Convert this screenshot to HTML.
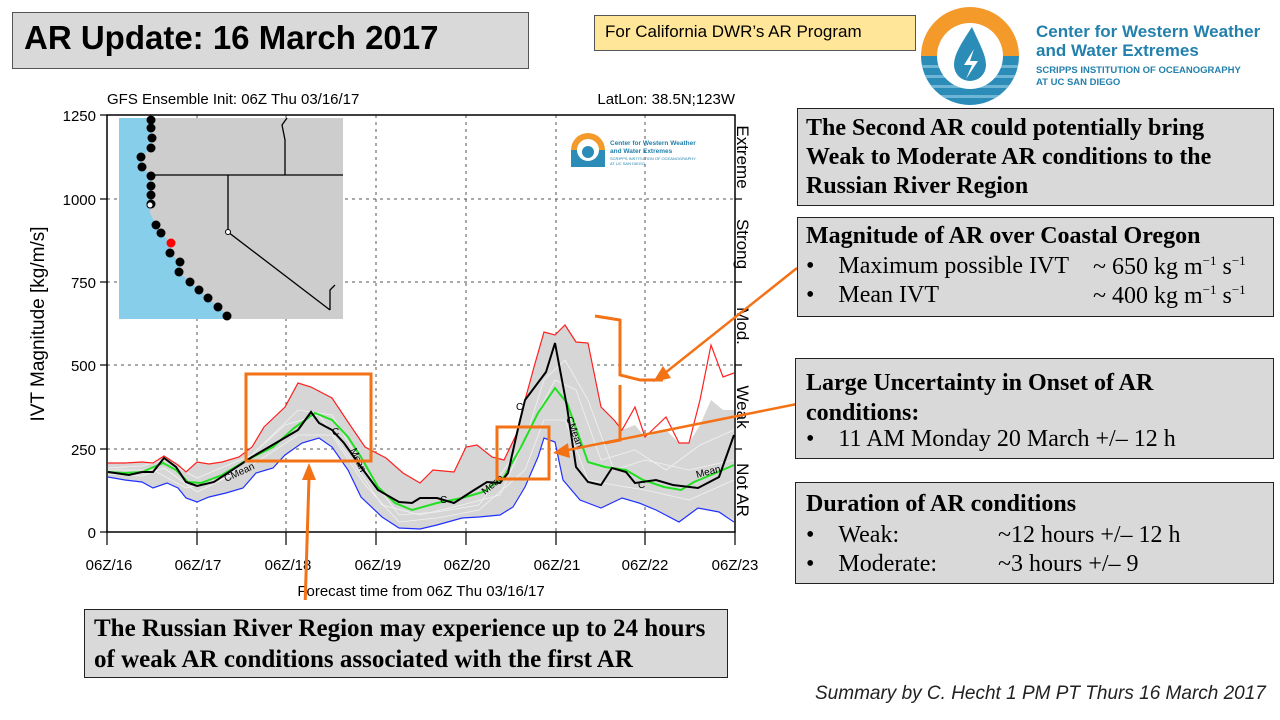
<!DOCTYPE html>
<html><head><meta charset="utf-8"><style>
body{margin:0;width:1280px;height:720px;background:#fff;position:relative;overflow:hidden;font-family:"Liberation Sans",sans-serif}
.a{position:absolute;white-space:nowrap}
.box{position:absolute;background:#d9d9d9;border:1.5px solid #222;box-sizing:border-box}
.s{font-family:"Liberation Serif",serif;font-size:24px;color:#000}
.b{font-weight:bold}
sup{font-size:13px}
</style></head><body>
<div class="box" style="left:12px;top:12px;width:517px;height:57px;border-color:#555"></div>
<div class="a" style="left:24px;top:19px;font-size:33px;font-weight:bold;color:#000">AR Update: 16 March 2017</div>
<div class="box" style="left:594px;top:15px;width:322px;height:36px;background:#ffe699;border-color:#555"></div>
<div class="a" style="left:605px;top:22px;font-size:17px">For California DWR’s AR Program</div>

<svg class="a" style="left:920px;top:5px" width="100" height="102" viewBox="0 0 100 102">
<defs><clipPath id="c"><circle cx="50" cy="51" r="49"/></clipPath></defs>
<g clip-path="url(#c)"><rect x="0" y="0" width="100" height="51" fill="#f39a2a"/><rect x="0" y="51" width="100" height="51" fill="#2b8cb8"/>
<rect x="0" y="60" width="100" height="3" fill="#6fb6d6"/><rect x="0" y="70" width="100" height="3" fill="#6fb6d6"/><rect x="0" y="80" width="100" height="3" fill="#6fb6d6"/><rect x="0" y="90" width="100" height="3" fill="#6fb6d6"/></g>
<circle cx="50" cy="51" r="33" fill="#fff"/>
<path d="M52 22 C40 40 34 50 34 60 A16 16 0 0 0 66 60 C66 50 60 40 52 22Z" fill="#2b8cb8"/>
<path d="M54 44 L44 60 L52 60 L46 74 L58 56 L50 56Z" fill="#fff"/>
</svg>
<div class="a" style="left:1036px;top:22px;font-size:17px;color:#2380ad;font-weight:bold;line-height:19px">Center for Western Weather<br>and Water Extremes</div>
<div class="a" style="left:1036px;top:65px;font-size:9.5px;color:#2380ad;font-weight:bold;line-height:12px">SCRIPPS INSTITUTION OF OCEANOGRAPHY<br>AT UC SAN DIEGO</div>

<svg class="a" style="left:0;top:0" width="790" height="600">
<text x="107" y="104" font-size="15" font-family="Liberation Sans">GFS Ensemble Init: 06Z Thu 03/16/17</text>
<text x="735" y="104" font-size="15" text-anchor="end" font-family="Liberation Sans">LatLon: 38.5N;123W</text>
<g stroke="#555" stroke-dasharray="3,4" stroke-width="1">
<line x1="197" y1="115" x2="197" y2="532"/><line x1="286" y1="115" x2="286" y2="532"/><line x1="376" y1="115" x2="376" y2="532"/><line x1="466" y1="115" x2="466" y2="532"/><line x1="556" y1="115" x2="556" y2="532"/><line x1="645" y1="115" x2="645" y2="532"/>
<line x1="107" y1="199" x2="735" y2="199"/><line x1="107" y1="282" x2="735" y2="282"/><line x1="107" y1="365" x2="735" y2="365"/><line x1="107" y1="449" x2="735" y2="449"/>
</g>
<polygon fill="#d6d6d6" points="108,463 125,463 142,462 153,463 164,456 178,465 186,472 197,462 209,464 222,462 239,457 252,447 264,427 285,407 298,383 311,387 332,398 348,422 365,447 386,458 403,473 420,483 433,470 454,472 466,447 477,445 492,457 504,460 517,433 525,400 534,367 544,332 555,335 565,325 576,342 588,343 601,407 614,420 622,430 635,425 645,437 666,430 679,443 689,443 700,425 711,400 723,410 734,410 734,520 719,512 698,508 679,522 656,510 639,503 622,498 601,508 580,500 563,480 555,442 544,438 538,457 525,487 513,507 500,515 479,517 462,518 437,525 420,529 399,528 382,517 361,497 348,470 332,447 319,438 302,443 285,455 273,468 256,473 243,488 226,493 209,497 197,502 186,498 178,488 167,483 153,488 142,482 125,480 108,477"/>
<g fill="none" stroke="#f2f2f2" stroke-width="0.8">
<polyline points="108,468 142,466 164,460 197,478 252,455 298,410 332,415 365,470 399,515 437,512 479,505 525,440 544,380 565,360 588,400 614,470 645,460 689,470 734,460"/>
<polyline points="108,474 142,476 164,468 197,492 252,465 298,435 332,435 365,485 399,522 437,518 479,510 525,470 544,420 565,420 588,480 614,485 645,490 689,500 734,480"/>
<polyline points="108,470 153,470 186,488 226,478 285,425 319,415 348,455 382,505 420,515 462,505 500,495 534,420 555,380 576,390 601,460 635,450 666,470 700,445 734,430"/>
</g>
<polyline fill="none" stroke="#ff2020" stroke-width="1.2" points="108,463 125,463 142,462 153,463 164,456 178,465 186,472 197,462 209,464 222,462 239,457 252,447 264,427 285,407 298,383 311,387 332,398 348,422 365,447 386,458 403,473 420,483 433,470 454,472 466,447 477,445 492,457 504,460 517,433 525,400 534,367 544,332 555,335 565,325 576,342 588,343 601,407 614,420 622,430 635,407 645,437 666,417 679,443 689,443 700,400 711,345 723,377 734,373"/>
<polyline fill="none" stroke="#2030ff" stroke-width="1.2" points="108,477 125,480 142,482 153,488 167,483 178,488 186,498 197,502 209,497 226,493 243,488 256,473 273,468 285,455 302,443 319,438 332,447 348,470 361,497 382,517 399,528 420,529 437,525 462,518 479,517 500,515 513,507 525,487 538,457 544,438 555,442 563,480 580,500 601,508 622,498 639,503 656,510 679,522 698,508 719,512 734,522"/>
<polyline fill="none" stroke="#20e020" stroke-width="2" points="108,472 125,473 142,472 163,463 176,470 188,482 201,483 222,475 247,460 273,447 294,428 315,413 332,420 348,437 361,457 378,487 395,503 412,510 437,503 462,498 483,492 504,477 521,447 538,413 555,388 567,403 588,462 605,467 626,470 643,480 664,487 681,490 694,482 711,475 734,465"/>
<polyline fill="none" stroke="#000" stroke-width="2" points="108,472 129,475 142,472 153,472 164,458 176,467 186,482 197,486 214,482 252,457 298,430 311,412 319,423 332,430 344,443 361,467 378,490 399,502 412,503 420,498 437,498 454,503 471,492 487,482 500,483 508,473 517,433 525,400 546,372 555,343 567,407 576,467 588,482 601,485 612,468 626,472 635,483 656,480 673,485 698,488 719,477 734,435"/>
<g font-size="10" font-family="Liberation Sans"><text x="226" y="482" transform="rotate(-25 226 482)">CMean</text><text x="332" y="435">C</text><text x="350" y="450" transform="rotate(65 350 450)">Mean</text><text x="440" y="503">C</text><text x="485" y="495" transform="rotate(-40 485 495)">Mean</text><text x="516" y="410">C</text><text x="566" y="418" transform="rotate(70 566 418)">CMean</text><text x="638" y="488">C</text><text x="697" y="478" transform="rotate(-15 697 478)">Mean</text></g>
<rect x="107" y="115" width="628" height="417" fill="none" stroke="#000" stroke-width="1.5"/>
<g stroke="#000" stroke-width="1.2">
<line x1="107" y1="532" x2="107" y2="545"/><line x1="197" y1="532" x2="197" y2="545"/><line x1="286" y1="532" x2="286" y2="545"/><line x1="376" y1="532" x2="376" y2="545"/><line x1="466" y1="532" x2="466" y2="545"/><line x1="556" y1="532" x2="556" y2="545"/><line x1="645" y1="532" x2="645" y2="545"/><line x1="735" y1="532" x2="735" y2="545"/>
<line x1="100" y1="115" x2="107" y2="115"/><line x1="100" y1="199" x2="107" y2="199"/><line x1="100" y1="282" x2="107" y2="282"/><line x1="100" y1="365" x2="107" y2="365"/><line x1="100" y1="449" x2="107" y2="449"/><line x1="100" y1="532" x2="107" y2="532"/>
<line x1="735" y1="199" x2="742" y2="199"/><line x1="735" y1="282" x2="742" y2="282"/><line x1="735" y1="365" x2="742" y2="365"/><line x1="735" y1="449" x2="742" y2="449"/>
</g>
<g font-size="15" font-family="Liberation Sans" text-anchor="end"><text x="96" y="121">1250</text><text x="96" y="205">1000</text><text x="96" y="288">750</text><text x="96" y="371">500</text><text x="96" y="455">250</text><text x="96" y="538">0</text></g>
<text transform="translate(44 324) rotate(-90)" font-size="19" text-anchor="middle" font-family="Liberation Sans">IVT Magnitude [kg/m/s]</text>
<g font-size="15" font-family="Liberation Sans" text-anchor="middle"><text x="109" y="570">06Z/16</text><text x="198" y="570">06Z/17</text><text x="288" y="570">06Z/18</text><text x="378" y="570">06Z/19</text><text x="467" y="570">06Z/20</text><text x="557" y="570">06Z/21</text><text x="645" y="570">06Z/22</text><text x="735" y="570">06Z/23</text></g>
<text x="421" y="596" font-size="15" text-anchor="middle" font-family="Liberation Sans">Forecast time from 06Z Thu 03/16/17</text>
<g font-size="17" font-family="Liberation Sans" text-anchor="middle">
<text transform="translate(737 157) rotate(90)">Extreme</text><text transform="translate(737 244) rotate(90)">Strong</text><text transform="translate(737 326) rotate(90)">Mod.</text><text transform="translate(737 407) rotate(90)">Weak</text><text transform="translate(737 490) rotate(90)">Not AR</text></g>
<rect x="119" y="118" width="224" height="201" fill="#cdcdcd"/>
<polygon fill="#87ceeb" points="119,118 151,118 151,148 141,157 142,167 151,176 150,213 156,225 161,233 171,243 170,253 180,262 179,272 190,282 199,290 208,298 218,307 227,315 230,319 119,319"/>
<g stroke="#000" stroke-width="1.3" fill="none"><polyline points="152,175 343,175"/><polyline points="228,175 228,232 330,310"/><polyline points="285,175 285,140 282,125 287,118"/><polyline points="330,310 330,290 335,285"/></g>
<circle cx="228" cy="232" r="2.5" fill="#fff" stroke="#000"/>
<g fill="#000"><circle cx="151" cy="120" r="4.5"/><circle cx="151" cy="128" r="4.5"/><circle cx="152" cy="138" r="4.5"/><circle cx="151" cy="148" r="4.5"/><circle cx="141" cy="157" r="4.5"/><circle cx="142" cy="167" r="4.5"/><circle cx="151" cy="176" r="4.5"/><circle cx="151" cy="186" r="4.5"/><circle cx="151" cy="195" r="4.5"/><circle cx="151" cy="204" r="4.5"/><circle cx="156" cy="225" r="4.5"/><circle cx="161" cy="233" r="4.5"/><circle cx="170" cy="253" r="4.5"/><circle cx="180" cy="262" r="4.5"/><circle cx="179" cy="272" r="4.5"/><circle cx="190" cy="282" r="4.5"/><circle cx="199" cy="290" r="4.5"/><circle cx="208" cy="298" r="4.5"/><circle cx="218" cy="307" r="4.5"/><circle cx="227" cy="316" r="4.5"/></g>
<circle cx="150" cy="205" r="3" fill="#fff" stroke="#000"/>
<circle cx="171" cy="243" r="4.5" fill="#f00"/>
<circle cx="588" cy="150" r="17" fill="#f39a2a"/><rect x="571" y="150" width="34" height="17" fill="#2b8cb8"/><circle cx="588" cy="150" r="11" fill="#fff"/><circle cx="588" cy="152" r="6" fill="#2b8cb8"/>
<text x="610" y="145" font-size="6.5" fill="#2380ad" font-weight="bold">Center for Western Weather</text><text x="610" y="153" font-size="6.5" fill="#2380ad" font-weight="bold">and Water Extremes</text><text x="610" y="160" font-size="4" fill="#2380ad">SCRIPPS INSTITUTION OF OCEANOGRAPHY</text><text x="610" y="165" font-size="4" fill="#2380ad">AT UC SAN DIEGO</text>
<g stroke="#f47216" stroke-width="3" fill="none">
<rect x="246" y="374" width="125" height="87"/><rect x="497" y="427" width="52" height="52"/>
<polyline points="595,316 620,320 620,375 640,380 663,380"/><polyline points="620,385 620,440 605,443"/>
<line x1="305" y1="608" x2="309" y2="478"/>
</g>
<polygon points="309,463 302,480 316,480" fill="#f47216"/>
</svg>
<svg class="a" style="left:0;top:0" width="1280" height="720">
<g stroke="#f47216" stroke-width="2.5"><line x1="797" y1="268" x2="665" y2="373"/><line x1="797" y1="404" x2="568" y2="450"/></g>
<polygon points="653,382 663,366 671,378" fill="#f47216"/>
<polygon points="553,453 568,443 570,458" fill="#f47216"/>
</svg>

<div class="box" style="left:797px;top:108px;width:477px;height:98px"></div>
<div class="a s b" style="left:806px;top:114px;line-height:29px">The Second AR could potentially bring<br>Weak to Moderate AR conditions to the<br>Russian River Region</div>
<div class="box" style="left:797px;top:217px;width:477px;height:100px"></div>
<div class="a s b" style="left:806px;top:223px">Magnitude of AR over Coastal Oregon</div>
<div class="a s" style="left:806px;top:253px">•&nbsp;&nbsp;&nbsp;&nbsp;Maximum possible IVT</div><div class="a s" style="left:1093px;top:253px">~ 650 kg m<sup>−1</sup> s<sup>−1</sup></div>
<div class="a s" style="left:806px;top:282px">•&nbsp;&nbsp;&nbsp;&nbsp;Mean IVT</div><div class="a s" style="left:1093px;top:282px">~ 400 kg m<sup>−1</sup> s<sup>−1</sup></div>
<div class="box" style="left:795px;top:358px;width:479px;height:101px"></div>
<div class="a s b" style="left:806px;top:368px;line-height:30px">Large Uncertainty in Onset of AR<br>conditions:</div>
<div class="a s" style="left:806px;top:426px">•&nbsp;&nbsp;&nbsp;&nbsp;11 AM Monday 20 March +/– 12 h</div>
<div class="box" style="left:795px;top:482px;width:479px;height:102px"></div>
<div class="a s b" style="left:806px;top:491px">Duration of AR conditions</div>
<div class="a s" style="left:806px;top:522px">•&nbsp;&nbsp;&nbsp;&nbsp;Weak:</div><div class="a s" style="left:998px;top:522px">~12 hours +/– 12 h</div>
<div class="a s" style="left:806px;top:551px">•&nbsp;&nbsp;&nbsp;&nbsp;Moderate:</div><div class="a s" style="left:998px;top:551px">~3 hours +/– 9</div>
<div class="box" style="left:84px;top:609px;width:644px;height:69px"></div>
<div class="a s b" style="left:94px;top:613px;line-height:31px;font-size:25px">The Russian River Region may experience up to 24 hours<br>of weak AR conditions associated with the first AR</div>
<div class="a" style="left:815px;top:683px;font-size:19px;font-style:italic;color:#222">Summary by C. Hecht 1 PM PT Thurs 16 March 2017</div>
</body></html>
